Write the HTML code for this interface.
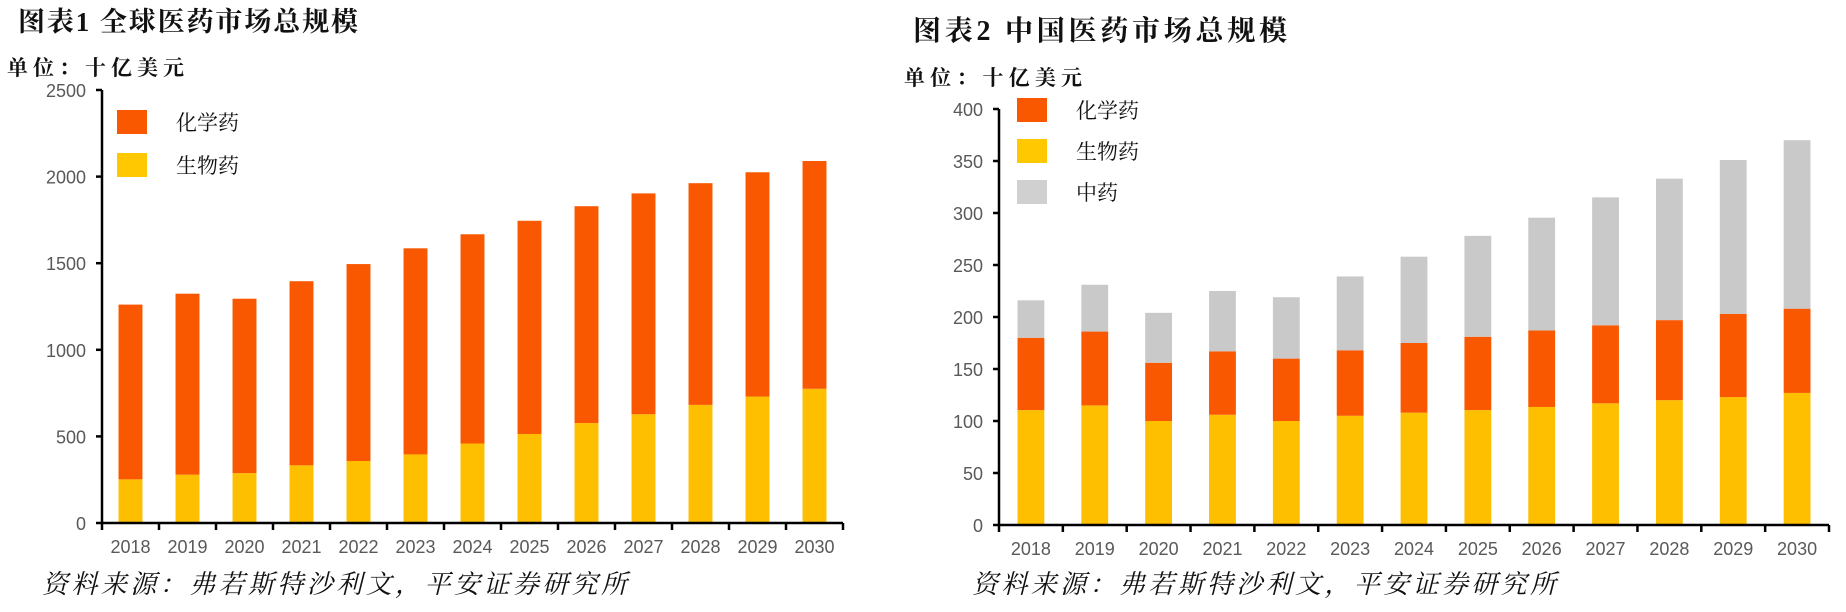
<!DOCTYPE html>
<html><head><meta charset="utf-8"><style>
html,body{margin:0;padding:0;background:#fff;width:1846px;height:612px;overflow:hidden}
svg{display:block}
.ser{font-family:"Liberation Serif","Noto Serif CJK SC",serif;font-weight:bold;fill:#111}
.tick{font-family:"Liberation Sans",sans-serif;font-size:18px;fill:#595959}
.leg{font-family:"Liberation Serif","Noto Serif CJK SC",serif;font-size:21px;fill:#111}
.foot{font-family:"Liberation Serif","Noto Serif CJK SC",serif;font-size:26px;font-style:italic;fill:#111}
</style></head><body>
<svg id="svg" width="1846" height="612" xmlns="http://www.w3.org/2000/svg">
<text class="ser" x="18" y="31" font-size="27" textLength="340" lengthAdjust="spacing">图表1 全球医药市场总规模</text>
<text class="ser" x="7" y="75" font-size="21" textLength="177" lengthAdjust="spacing">单位：十亿美元</text>
<text class="foot" x="42" y="593" textLength="585" lengthAdjust="spacing">资料来源：弗若斯特沙利文，平安证券研究所</text>
<text class="ser" x="913" y="40" font-size="28" textLength="374" lengthAdjust="spacing">图表2 中国医药市场总规模</text>
<text class="ser" x="904" y="85" font-size="21" textLength="178" lengthAdjust="spacing">单位：十亿美元</text>
<text class="foot" x="972" y="593" textLength="584" lengthAdjust="spacing">资料来源：弗若斯特沙利文，平安证券研究所</text>
</svg>
<script>
const years = ["2018","2019","2020","2021","2022","2023","2024","2025","2026","2027","2028","2029","2030"];
const g_bio = [252,279,288,333,358,396,459,514,577,628,682,730,775];
const g_total = [1261,1324,1295,1396,1495,1586,1667,1745,1829,1903,1962,2025,2090];
const g_ticks = [0,500,1000,1500,2000,2500];
const c_bio = [110.5,115,100,106,100,105,108,110.5,113.5,117,120,123,127];
const c_chemTop = [180,186,156,167,160,168,175,181,187,192,197,203,208];
const c_total = [216,231,204,225,219,239,258,278,295.5,315,333,351,370];
const c_ticks = [0,50,100,150,200,250,300,350,400];
const ORANGE="#F95700", YELLOW="#FDBF00", GRAY="#C9C9C9";
const svg=document.getElementById('svg');
const NS="http://www.w3.org/2000/svg";
function mk(tag,attrs){const e=document.createElementNS(NS,tag);for(const k in attrs)e.setAttribute(k,attrs[k]);svg.appendChild(e);return e;}

function chart(prefix,x0,x1,y0,yTop,max,ticks,stacks,legend,legX,legY,legStep){
  const n=years.length, cw=(x1-x0)/n, bw=cw*0.42;
  const ys=v=>y0-(v/max)*(y0-yTop);
  const xc=i=>x0+cw*(i+0.5);
  years.forEach((yr,i)=>{
    stacks.forEach(s=>{
      const lo=s.lo[i], hi=s.hi[i];
      const r=mk('rect',{x:xc(i)-bw/2,y:ys(hi),width:bw,height:ys(lo)-ys(hi),fill:s.color});
      
      
    });
    const t=mk('text',{x:xc(i),y:y0+30,'text-anchor':'middle',class:'tick'});
    t.textContent=yr;
    
    
  });
  const ax=mk('path',{d:`M${x0} ${yTop}V${y0}H${x1}`,stroke:'#000','stroke-width':2.5,fill:'none'});
  
  
  for(let i=0;i<=n;i++){const tk=mk('line',{x1:x0+cw*i,x2:x0+cw*i,y1:y0,y2:y0+7,stroke:'#000','stroke-width':2.5});
    
    }
  ticks.forEach(v=>{
    const tk=mk('line',{x1:x0-6,x2:x0,y1:ys(v),y2:ys(v),stroke:'#000','stroke-width':2.5});
    
    
    const t=mk('text',{x:x0-16,y:ys(v)+7,'text-anchor':'end',class:'tick'});
    t.textContent=v;
    
    
  });
  legend.forEach((l,i)=>{
    const r=mk('rect',{x:legX,y:legY+i*legStep,width:30,height:24,fill:l[1]});
    
    
    const t=mk('text',{x:legX+59,y:legY+i*legStep+20,class:'leg'});
    t.textContent=l[0];
    
    
  });
}
const zeros=years.map(()=>0);
chart('chart1',102,843,523,90,2500,g_ticks,
  [{key:'bio',lo:zeros,hi:g_bio,color:YELLOW},{key:'chem',lo:g_bio,hi:g_total,color:ORANGE}],
  [["化学药",ORANGE],["生物药","#FFC800"]],117,110,43);
chart('chart2',999,1829,525,109,400,c_ticks,
  [{key:'bio',lo:zeros,hi:c_bio,color:YELLOW},{key:'chem',lo:c_bio,hi:c_chemTop,color:ORANGE},{key:'tcm',lo:c_chemTop,hi:c_total,color:GRAY}],
  [["化学药",ORANGE],["生物药","#FFC800"],["中药","#D0D0D0"]],1017,98,41);
</script>
</body></html>
